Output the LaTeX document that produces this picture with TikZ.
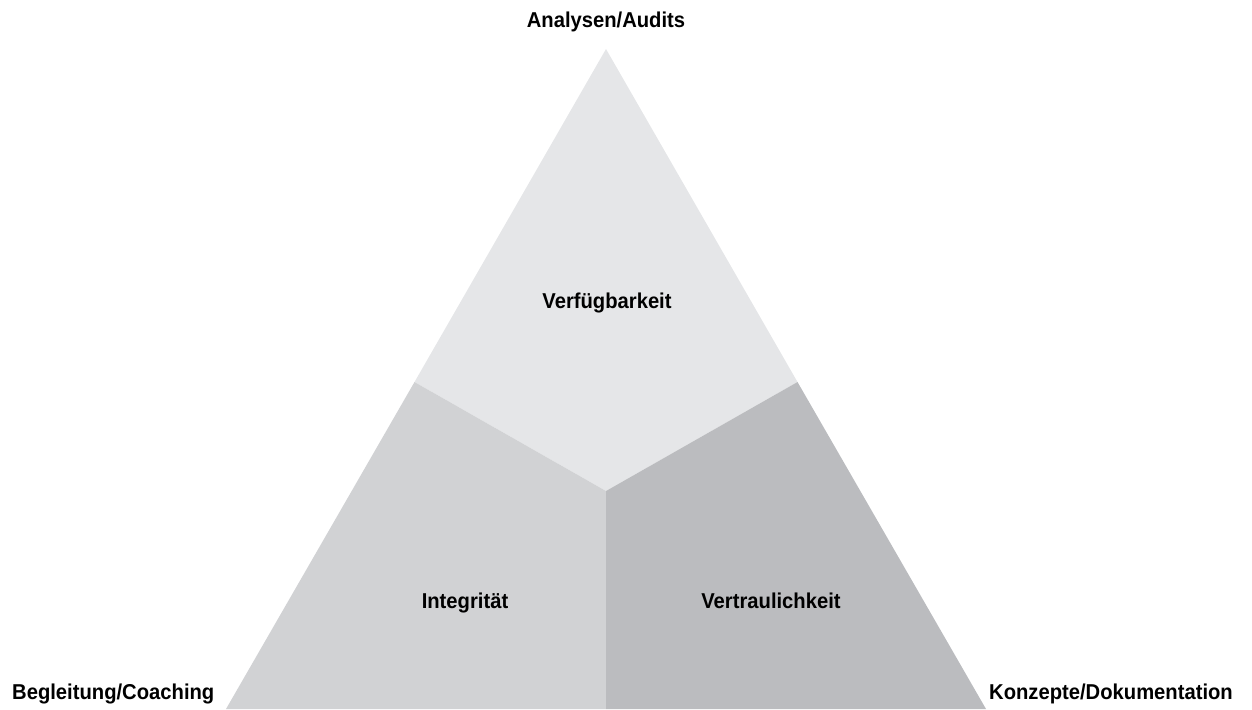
\documentclass[tikz,border=0pt]{standalone}
\usepackage{fontspec}
\setmainfont[FakeStretch=0.94]{Liberation Sans}

\definecolor{topgray}{HTML}{E5E6E8}
\definecolor{leftgray}{HTML}{D1D2D4}
\definecolor{rightgray}{HTML}{BBBCBF}

\tikzset{
  label text/.style={font=\fontsize{21.5}{25}\selectfont\bfseries, inner sep=0pt, anchor=base}
}

\begin{document}
\begin{tikzpicture}[x=1pt,y=-1pt]
        % Fix the page size
        \useasboundingbox (0,0) rectangle (1252,709);

        % Corners of the triangle and the inner points
        \coordinate (apex) at (606,49);
        \coordinate (baseL) at (226,709);
        \coordinate (baseR) at (986,709);
        \coordinate (center) at (606,491);
        \coordinate (midL) at (414.5,382);
        \coordinate (midR) at (797.5,382);
        \coordinate (baseM) at (606,709);

        % Top part
        \fill[topgray] (apex) -- (midR) -- (center) -- (midL) -- cycle;

        % Left part
        \fill[leftgray] (midL) -- (center) -- (baseM) -- (baseL) -- cycle;

        % Right part
        \fill[rightgray] (center) -- (midR) -- (baseR) -- (baseM) -- cycle;

        % Labels inside
        \node[label text] (verf) at (607,308) {Verfügbarkeit};
        \node[label text] (integ) at (465,608) {Integrität};
        \node[label text] (vertr) at (771,608) {Vertraulichkeit};

        % Labels at the corners
        \node[label text] (analysen) at (606,28) {Analysen/Audits};
        \node[label text, anchor=base west] (begleitung) at (12,699) {Begleitung/Coaching};
        \node[label text, anchor=base east] (konzepte) at (1233,699) {Konzepte/Dokumentation};
    \end{tikzpicture}
\end{document}
